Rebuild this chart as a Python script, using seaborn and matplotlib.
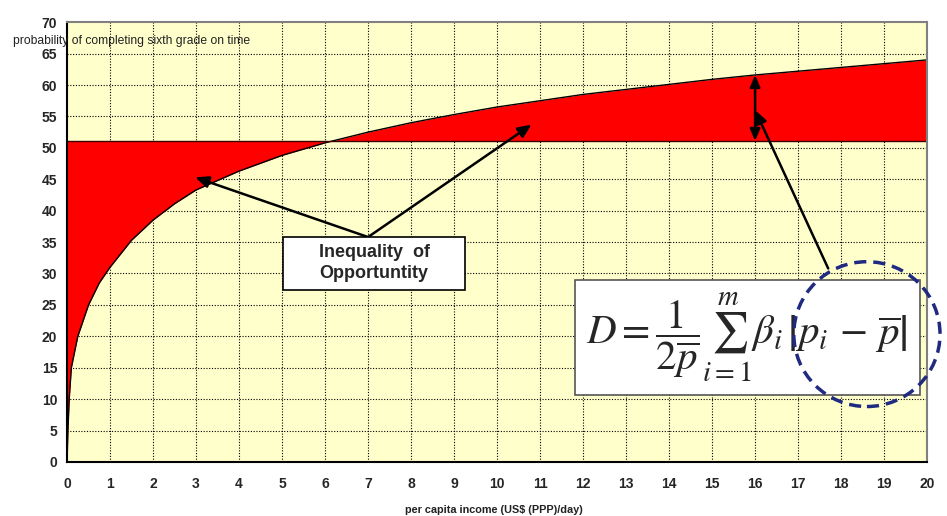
import numpy as np
import pandas as pd
import matplotlib
matplotlib.use("Agg")
import matplotlib.pyplot as plt
from matplotlib.patches import Ellipse, Rectangle
import seaborn as sns

# curve (income in US$ PPP/day -> probability)
income = [0, 0.02, 0.05, 0.1, 0.25, 0.5, 0.75, 1, 1.5, 2, 2.5, 3, 4, 5, 6, 7, 8, 9,
          10, 11, 12, 13, 14, 15, 16, 17, 18, 19, 20]
prob = [0, 5, 10, 15, 20, 25, 28.5, 31, 35.3, 38.5, 41.1, 43.3, 46.3, 48.8, 50.8,
        52.5, 54.0, 55.3, 56.5, 57.5, 58.5, 59.3, 60.1, 60.9, 61.6, 62.2, 62.8, 63.4, 64.0]
mean_prob = 51.1

x_ticks = list(range(0, 21))
y_ticks = list(range(0, 71, 5))

box_label = "Inequality  of\nOpportuntity"
formula = (r"$D=\dfrac{1}{2\overline{p}}\sum_{i=1}^{m}\beta_i\,"
           r"\left|p_i\,-\,\overline{p}\right|$")

df = pd.DataFrame({"income": income, "prob": prob})

sns.set_style("white")
plt.rcParams["font.family"] = ["Liberation Sans", "DejaVu Sans"]
plt.rcParams["mathtext.fontset"] = "stix"

fig = plt.figure(figsize=(9.47, 5.16), dpi=100)
ax = fig.add_axes([0.0708, 0.1047, 0.9082, 0.8523])
ax.set_facecolor("#FFFFCC")

# grid under everything
for xv in x_ticks[1:-1]:
    ax.axvline(xv, color="black", lw=0.8, ls=(0, (1, 1.5)), zorder=0)
for yv in y_ticks[1:-1]:
    ax.axhline(yv, color="black", lw=0.8, ls=(0, (1, 1.5)), zorder=0)

x = np.array(income)
y = np.array(prob)
ax.fill_between(x, y, mean_prob, color="#FF0000", lw=0, zorder=1)
sns.lineplot(data=df, x="income", y="prob", color="black", lw=1.0, ax=ax, zorder=2)
ax.plot([0, 20], [mean_prob, mean_prob], color="#400000", lw=1.0, zorder=2)

ax.set_xlim(0, 20)
ax.set_ylim(0, 70)
ax.set_xticks(x_ticks)
ax.set_yticks(y_ticks)
ax.tick_params(axis="both", direction="out", length=4, width=1.2, color="black",
               labelsize=10)
for lab in ax.get_xticklabels() + ax.get_yticklabels():
    lab.set_fontweight("bold")
ax.tick_params(axis="y", pad=3)
ax.tick_params(axis="x", pad=7)

for side in ["left", "bottom"]:
    ax.spines[side].set_color("black")
    ax.spines[side].set_linewidth(1.5)
for side in ["top", "right"]:
    ax.spines[side].set_color("#808080")
    ax.spines[side].set_linewidth(1.5)

ax.set_xlabel("")
ax.set_ylabel("")
fig.text(0.014, 0.921, "probability of completing sixth grade on time",
         fontsize=8.7, color="#222222", ha="left", va="center")
fig.text(0.521, 0.012, "per capita income (US$ (PPP)/day)", fontsize=7.8,
         fontweight="bold", color="#222222", ha="center", va="center")

# arrows
arr = dict(arrowstyle="-|>,head_length=0.8,head_width=0.35", color="black", lw=1.8,
           shrinkA=0, shrinkB=0)
ax.annotate("", xy=(2.98, 45.3), xytext=(7.0, 35.8), arrowprops=arr, zorder=4)
ax.annotate("", xy=(10.8, 53.7), xytext=(7.0, 35.8), arrowprops=arr, zorder=4)
ax.annotate("", xy=(16.0, 56.0), xytext=(17.7, 30.8), arrowprops=arr, zorder=4)
darr = dict(arrowstyle="<|-|>,head_length=0.7,head_width=0.3", color="black", lw=1.8,
            shrinkA=0, shrinkB=0)
ax.annotate("", xy=(16.0, 61.6), xytext=(16.0, mean_prob), arrowprops=darr, zorder=4)

# text box
ax.add_patch(Rectangle((5.02, 27.35), 4.24, 8.42, fc="white", ec="black", lw=1.2,
                       zorder=5))
ax.text(7.14, 31.6, box_label, ha="center", va="center", fontsize=13,
        fontweight="bold", linespacing=1.3, zorder=6)

# formula box
ax.add_patch(Rectangle((11.81, 10.65), 8.03, 18.28, fc="white", ec="#555555", lw=1.2,
                       zorder=5))
ax.text(15.82, 19.8, formula, ha="center", va="center", fontsize=29.5, zorder=6)

circle = Ellipse((18.6, 20.35), width=3.40, height=23.05, fill=False,
                 ec="#1F2A80", lw=2.5, ls=(0, (3.5, 2)), zorder=7, clip_on=False)
ax.add_patch(circle)

fig.savefig("out.png", dpi=100)
